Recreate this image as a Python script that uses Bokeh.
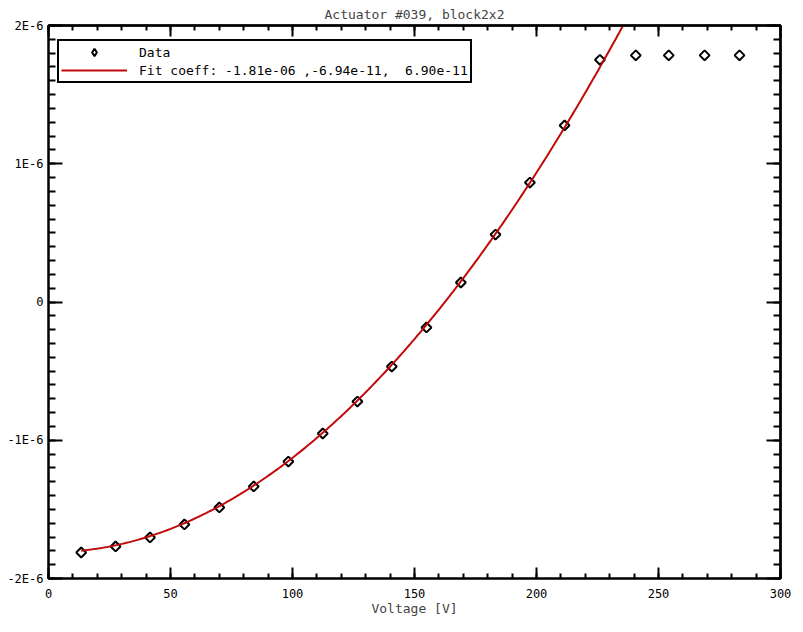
import numpy as np
from bokeh.plotting import figure
from bokeh.models import Range1d, LinearAxis, FixedTicker, Legend, LegendItem
from bokeh.embed import file_html
from bokeh.resources import INLINE

# ---- data (y values in units of 1e-6) ----
voltage = [13.4, 27.5, 41.6, 55.7, 70.0, 84.1, 98.3, 112.4, 126.6, 140.7,
           154.9, 169.0, 183.2, 197.3, 211.5, 226.0, 240.7, 254.2, 268.9, 283.2]
displacement = [-1.812, -1.768, -1.703, -1.609, -1.486, -1.334, -1.154, -0.951, -0.720, -0.467,
                -0.184, 0.141, 0.488, 0.864, 1.277, 1.752, 1.784, 1.784, 1.784, 1.784]
fit_coeff = [-1.81e-06, -6.94e-11, 6.90e-11]
x_ticks = [0, 50, 100, 150, 200, 250, 300]
y_ticks = [-2, -1, 0, 1, 2]
y_tick_labels = ["-2E-6", "-1E-6", "0", "1E-6", "2E-6"]
title_text = "Actuator #039, block2x2"
x_label = "Voltage [V]"
legend_data = "Data"
legend_fit = "Fit coeff: -1.81e-06 ,-6.94e-11,  6.90e-11"

FONT = "DejaVu Sans Mono"

p = figure(width=800, height=630, x_range=Range1d(0, 300), y_range=Range1d(-2, 2),
           output_backend="svg", toolbar_location=None, title=title_text,
           min_border_left=48, min_border_right=20, min_border_top=25, min_border_bottom=52)
p.title.align = "center"
p.title.text_font = FONT
p.title.text_font_size = "13px"
p.title.text_font_style = "normal"
p.title.text_line_height = 0.8
p.title.standoff = 7
p.xgrid.visible = False
p.ygrid.visible = False
p.outline_line_color = "black"
p.outline_line_width = 2
p.outline_line_alpha = 1
p.background_fill_color = "white"
p.border_fill_color = "white"
# an off-screen range used only to give the legend its diamond symbol
p.extra_y_ranges = {"legend_only": Range1d(100, 200)}

# fit curve evaluated from the fitted coefficients
xf = np.linspace(voltage[0], 240, 300)
yf = (fit_coeff[0] + fit_coeff[1] * xf + fit_coeff[2] * xf ** 2) * 1e6

r_data = p.scatter(voltage, displacement, marker="square", angle=np.pi / 4, size=7,
                   fill_color=None, line_color="black", line_width=2)
r_fit = p.line(xf, yf, line_color="#c00a0a", line_width=2)
r_proxy = p.scatter(voltage, displacement, marker="diamond", size=11, y_range_name="legend_only",
                    fill_color=None, line_color="black", line_width=2)

xt = FixedTicker(ticks=x_ticks, minor_ticks=list(range(0, 301, 10)))
yt = FixedTicker(ticks=y_ticks, minor_ticks=[round(-2 + 0.1 * i, 2) for i in range(41)])
overrides = {t: l for t, l in zip(y_ticks, y_tick_labels)}


def style_axis(ax, ticker, major_len, minor_len):
    ax.ticker = ticker
    ax.axis_line_width = 2
    ax.axis_line_color = "black"
    ax.major_tick_in = major_len
    ax.major_tick_out = 0
    ax.minor_tick_in = minor_len
    ax.minor_tick_out = 0
    ax.major_tick_line_width = 2
    ax.minor_tick_line_width = 2
    ax.major_label_text_font = FONT
    ax.major_label_text_color = "black"
    ax.major_label_text_font_size = "12px"


xa = p.xaxis[0]
style_axis(xa, xt, 11, 5)
xa.major_label_standoff = 10
xa.axis_label = x_label
xa.axis_label_text_font = FONT
xa.axis_label_text_font_size = "13px"
xa.axis_label_text_font_style = "normal"
xa.axis_label_standoff = 0

ya = p.yaxis[0]
style_axis(ya, yt, 14, 7)
ya.major_label_standoff = 5
ya.major_label_overrides = overrides


def mirror_axis(side, major_pos, minor_pos, major_len, minor_len):
    # label-free mirrored axis: major ticks as long "minor" ticks, then short minor ticks
    a1 = LinearAxis(ticker=FixedTicker(ticks=[], minor_ticks=major_pos))
    a1.axis_line_width = 2
    a1.axis_line_color = "black"
    a1.minor_tick_in = major_len
    a1.minor_tick_out = 0
    a1.minor_tick_line_width = 2
    a1.major_label_standoff = 0
    p.add_layout(a1, side)
    a2 = LinearAxis(ticker=FixedTicker(ticks=[], minor_ticks=minor_pos))
    a2.axis_line_width = 2
    a2.axis_line_color = "black"
    a2.minor_tick_in = minor_len
    a2.minor_tick_out = 0
    a2.minor_tick_line_width = 2
    a2.major_label_standoff = 0
    p.add_layout(a2, side)


mirror_axis("above", x_ticks, list(range(0, 301, 10)), 11, 5)
mirror_axis("right", y_ticks, [round(-2 + 0.1 * i, 2) for i in range(41)], 14, 7)

legend = Legend(items=[LegendItem(label=legend_data, renderers=[r_proxy]),
                       LegendItem(label=legend_fit, renderers=[r_fit])],
                location=(9, 495))
legend.label_text_font = FONT
legend.label_text_font_size = "13px"
legend.label_text_color = "black"
legend.border_line_color = "black"
legend.border_line_alpha = 1
legend.border_line_width = 2
legend.padding = 2
legend.spacing = 0
legend.glyph_width = 66
legend.glyph_height = 18
legend.label_height = 16
legend.label_standoff = 12
legend.margin = 0
legend.background_fill_alpha = 1
p.add_layout(legend, "center")

open("out.html", "w").write(file_html(p, INLINE))
